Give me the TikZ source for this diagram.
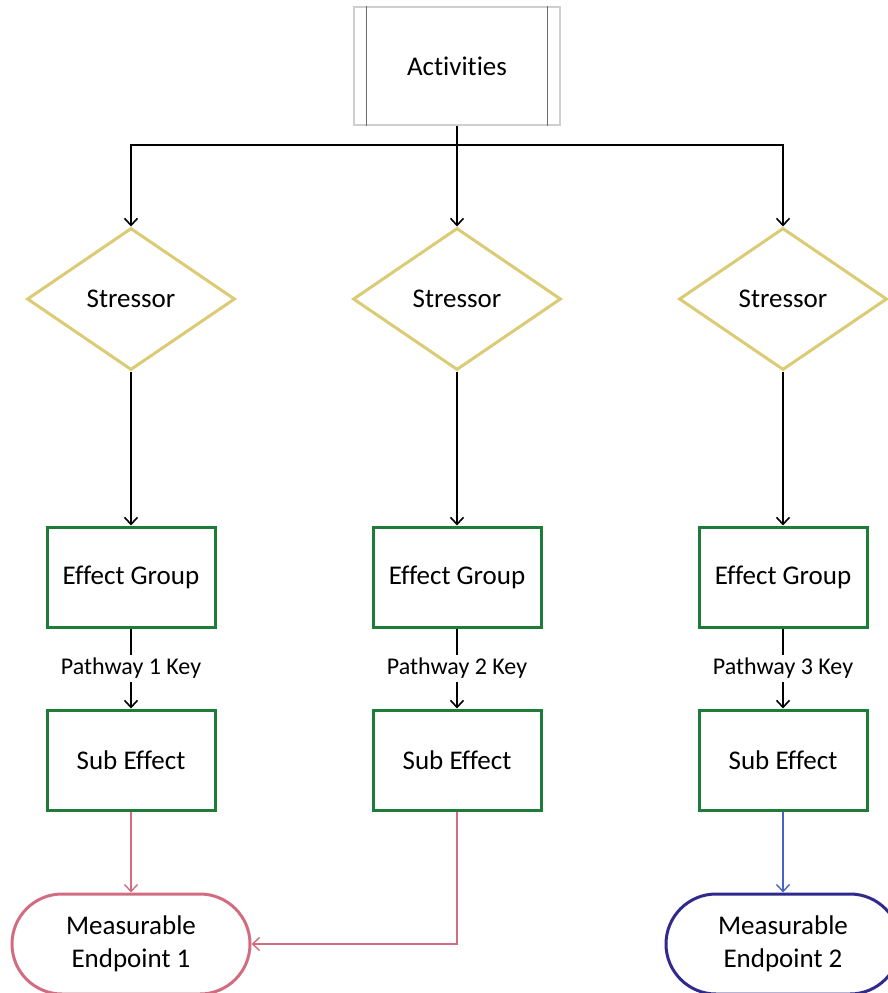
\documentclass[tikz,border=0pt]{standalone}
\usepackage{fontspec}
\setmainfont{Carlito}[Ligatures=NoCommon]
\usetikzlibrary{shapes.geometric,arrows.meta}
\definecolor{stressgold}{HTML}{DACB74}
\definecolor{effectgreen}{HTML}{1C7C38}
\definecolor{endpink}{HTML}{D26C80}
\definecolor{endblue}{HTML}{2F2A8C}
\definecolor{linkblue}{HTML}{4763C4}
\definecolor{procgray}{HTML}{CFCFCF}
\definecolor{bargray}{HTML}{6E6E6E}
\tikzset{
  txt/.style={font=\fontsize{27}{33}\selectfont, align=center, text=black},
  procbox/.style={txt, draw=procgray, line width=1.4pt, minimum width=206pt, minimum height=118pt, inner sep=0pt},
  stressbox/.style={txt, diamond, draw=stressgold, line width=3pt, minimum width=208pt, minimum height=142pt, inner sep=0pt},
  effbox/.style={txt, rectangle, draw=effectgreen, line width=3pt, minimum width=168pt, minimum height=100pt, inner sep=0pt},
  endbox/.style={txt, rectangle, rounded corners=50pt, line width=3pt, minimum height=100pt, inner sep=0pt},
  arr/.style={draw=black, line width=1.8pt, -{Straight Barb[length=7pt,width=13pt,line width=1.6pt]}},
  plain/.style={draw=black, line width=1.8pt},
  thinarr/.style={line width=1.6pt, -{Straight Barb[length=7pt,width=13pt,line width=1.4pt]}},
  keylabel/.style={font=\fontsize{24}{28}\selectfont, fill=white, inner sep=3pt, text=black}
}
\begin{document}
\begin{tikzpicture}[x=1pt,y=-1pt]
\useasboundingbox (0,0) rectangle (888,993);

% source process
\node[procbox] (act) at (457,66) {Activities};
\draw[bargray, line width=1pt] ([xshift=13pt]act.north west) -- ([xshift=13pt]act.south west);
\draw[bargray, line width=1pt] ([xshift=-13pt]act.north east) -- ([xshift=-13pt]act.south east);

% stressors
\node[stressbox] (s1) at (131,299) {Stressor};
\node[stressbox] (s2) at (457,299) {Stressor};
\node[stressbox] (s3) at (783,299) {Stressor};

% effect groups
\node[effbox] (e1) at (131,577) {Effect Group};
\node[effbox] (e2) at (457,577) {Effect Group};
\node[effbox] (e3) at (783,577) {Effect Group};

% sub effects
\node[effbox] (f1) at (131,760) {Sub Effect};
\node[effbox] (f2) at (457,760) {Sub Effect};
\node[effbox] (f3) at (783,760) {Sub Effect};

% endpoints
\node[endbox, draw=endpink, minimum width=238pt] (m1) at (131,944) {\raisebox{-3pt}{\parbox{200pt}{\centering Measurable\\Endpoint 1}}};
\node[endbox, draw=endblue, minimum width=234pt] (m2) at (783,944) {\raisebox{-3pt}{\parbox{200pt}{\centering Measurable\\Endpoint 2}}};

% activities to stressors
\coordinate (split) at (457,145);
\draw[plain] (act.south) -- (split);
\draw[arr] (split) -| (s1.north);
\draw[arr] (split) -- (s2.north);
\draw[arr] (split) -| (s3.north);

% stressors to effect groups
\draw[arr] (s1.south) -- (e1.north);
\draw[arr] (s2.south) -- (e2.north);
\draw[arr] (s3.south) -- (e3.north);

% pathway keys
\draw[arr] (e1.south) -- node[keylabel] {Pathway 1 Key} (f1.north);
\draw[arr] (e2.south) -- node[keylabel] {Pathway 2 Key} (f2.north);
\draw[arr] (e3.south) -- node[keylabel] {Pathway 3 Key} (f3.north);

% sub effects to endpoints
\draw[thinarr, endpink] (f1.south) -- (m1.north);
\draw[thinarr, endpink] (f2.south) |- (m1.east);
\draw[thinarr, linkblue] (f3.south) -- (m2.north);
\end{tikzpicture}
\end{document}
